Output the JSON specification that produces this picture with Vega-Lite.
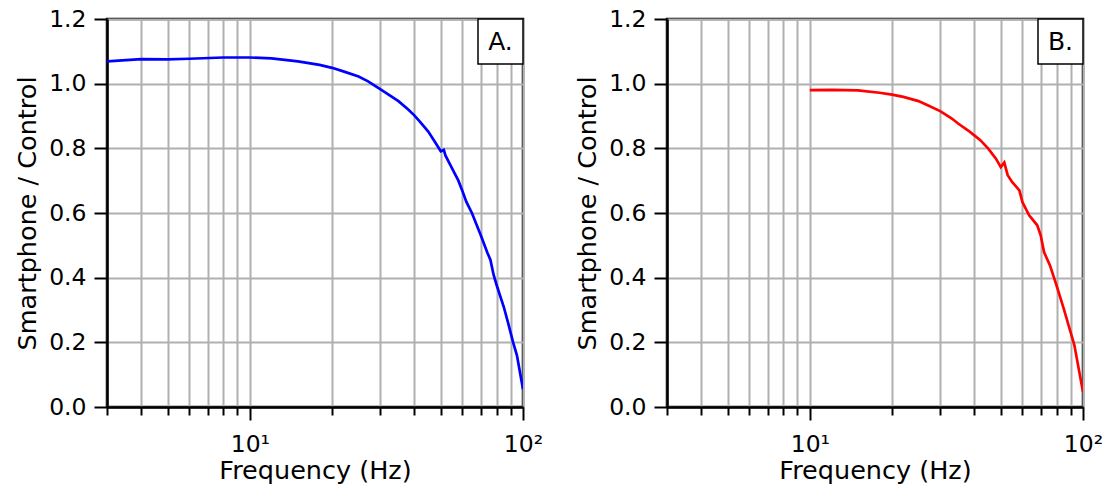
{
  "$schema": "https://vega.github.io/schema/vega-lite/v6.json",
  "padding": {"left": 14, "top": 5, "right": 5, "bottom": 0},
  "background": "white",
  "spacing": 144,
  "bounds": "flush",
  "datasets": {
    "a": [
      {"f": 3, "r": 1.069}, {"f": 4, "r": 1.076}, {"f": 5, "r": 1.075}, {"f": 6, "r": 1.077},
      {"f": 8, "r": 1.081}, {"f": 10, "r": 1.081}, {"f": 12, "r": 1.078}, {"f": 15, "r": 1.069},
      {"f": 18, "r": 1.058}, {"f": 20, "r": 1.049}, {"f": 22, "r": 1.038}, {"f": 25, "r": 1.022},
      {"f": 27, "r": 1.008}, {"f": 30, "r": 0.983}, {"f": 32, "r": 0.968}, {"f": 35, "r": 0.946},
      {"f": 38, "r": 0.920}, {"f": 40, "r": 0.902}, {"f": 42, "r": 0.882}, {"f": 45, "r": 0.852},
      {"f": 48, "r": 0.815}, {"f": 50, "r": 0.791}, {"f": 51.3, "r": 0.795}, {"f": 52, "r": 0.778},
      {"f": 55, "r": 0.738}, {"f": 58, "r": 0.700}, {"f": 60, "r": 0.668}, {"f": 62, "r": 0.635},
      {"f": 65, "r": 0.600}, {"f": 70, "r": 0.532}, {"f": 74, "r": 0.478}, {"f": 76, "r": 0.455},
      {"f": 78, "r": 0.410}, {"f": 80, "r": 0.378}, {"f": 85, "r": 0.310}, {"f": 88, "r": 0.263},
      {"f": 92, "r": 0.200}, {"f": 95, "r": 0.160}, {"f": 100, "r": 0.055}
    ],
    "b": [
      {"f": 10, "r": 0.980}, {"f": 12, "r": 0.981}, {"f": 15, "r": 0.979}, {"f": 18, "r": 0.972},
      {"f": 20, "r": 0.966}, {"f": 22, "r": 0.959}, {"f": 25, "r": 0.946}, {"f": 27, "r": 0.933},
      {"f": 30, "r": 0.915}, {"f": 33, "r": 0.893}, {"f": 35, "r": 0.876}, {"f": 38, "r": 0.855},
      {"f": 40, "r": 0.840}, {"f": 42, "r": 0.826}, {"f": 45, "r": 0.799}, {"f": 48, "r": 0.768},
      {"f": 50, "r": 0.742}, {"f": 51.5, "r": 0.756}, {"f": 53, "r": 0.717}, {"f": 55, "r": 0.696},
      {"f": 58.5, "r": 0.670}, {"f": 60, "r": 0.634}, {"f": 63.5, "r": 0.593}, {"f": 68, "r": 0.562},
      {"f": 70, "r": 0.531}, {"f": 72, "r": 0.479}, {"f": 75.7, "r": 0.438}, {"f": 80, "r": 0.376},
      {"f": 85, "r": 0.304}, {"f": 93, "r": 0.191}, {"f": 100, "r": 0.046}
    ],
    "la": [{"f": 100, "r": 1.2, "label": "A."}],
    "lb": [{"f": 100, "r": 1.2, "label": "B."}]
  },
  "config": {
    "font": "DejaVu Sans",
    "view": {"stroke": "black", "strokeWidth": 2.5},
    "axis": {
      "labelFont": "DejaVu Sans", "titleFont": "DejaVu Sans",
      "labelFontSize": 23.5, "titleFontSize": 25.5, "titleFontWeight": "normal",
      "labelColor": "black", "titleColor": "black",
      "domainColor": "black", "domainWidth": 2.5,
      "tickColor": "black", "tickWidth": 2,
      "gridColor": "#b0b0b0", "gridWidth": 2, "gridOpacity": 1,
      "labelFlush": false, "labelOverlap": false
    }
  },
  "hconcat": [
    {
      "width": 416, "height": 388,
      "layer": [
        {
          "data": {"name": "a"},
          "mark": {"type": "line", "color": "#0000ff", "strokeWidth": 2.7, "clip": true},
          "encoding": {
            "x": {"field": "f", "type": "quantitative",
              "scale": {"type": "log", "domain": [3, 100], "nice": false},
              "axis": {"title": "Frequency (Hz)", "values": [3,4,5,6,7,8,9,10,20,30,40,50,60,70,80,90,100],
                "labelExpr": "datum.value == 10 ? '10¹' : datum.value == 100 ? '10²' : ''",
                "tickSize": {"condition": {"test": "datum.value == 10 || datum.value == 100", "value": 13}, "value": 8},
                "labelPadding": 12, "titlePadding": 3}},
            "y": {"field": "r", "type": "quantitative",
              "scale": {"domain": [0, 1.2], "nice": false},
              "axis": {"title": "Smartphone / Control", "values": [0, 0.2, 0.4, 0.6, 0.8, 1.0, 1.2],
                "format": ".1f", "tickSize": 13, "labelPadding": 8, "titlePadding": 8}}
          }
        },
        {
          "data": {"name": "la"},
          "mark": {"type": "point", "shape": "square", "filled": true, "fill": "white", "stroke": "black",
            "strokeWidth": 1.5, "opacity": 1, "size": 2025, "xOffset": -22.5, "yOffset": 22.5},
          "encoding": {"x": {"field": "f", "type": "quantitative"}, "y": {"field": "r", "type": "quantitative"}}
        },
        {
          "data": {"name": "la"},
          "mark": {"type": "text", "fontSize": 25, "font": "DejaVu Sans", "color": "black",
            "align": "center", "baseline": "middle", "dx": -22.5, "dy": 22.5},
          "encoding": {"x": {"field": "f", "type": "quantitative"}, "y": {"field": "r", "type": "quantitative"},
            "text": {"field": "label"}}
        }
      ]
    },
    {
      "width": 416, "height": 388,
      "layer": [
        {
          "data": {"name": "b"},
          "mark": {"type": "line", "color": "#ff0000", "strokeWidth": 2.7, "clip": true},
          "encoding": {
            "x": {"field": "f", "type": "quantitative",
              "scale": {"type": "log", "domain": [3, 100], "nice": false},
              "axis": {"title": "Frequency (Hz)", "values": [3,4,5,6,7,8,9,10,20,30,40,50,60,70,80,90,100],
                "labelExpr": "datum.value == 10 ? '10¹' : datum.value == 100 ? '10²' : ''",
                "tickSize": {"condition": {"test": "datum.value == 10 || datum.value == 100", "value": 13}, "value": 8},
                "labelPadding": 12, "titlePadding": 3}},
            "y": {"field": "r", "type": "quantitative",
              "scale": {"domain": [0, 1.2], "nice": false},
              "axis": {"title": "Smartphone / Control", "values": [0, 0.2, 0.4, 0.6, 0.8, 1.0, 1.2],
                "format": ".1f", "tickSize": 13, "labelPadding": 8, "titlePadding": 8}}
          }
        },
        {
          "data": {"name": "lb"},
          "mark": {"type": "point", "shape": "square", "filled": true, "fill": "white", "stroke": "black",
            "strokeWidth": 1.5, "opacity": 1, "size": 2025, "xOffset": -22.5, "yOffset": 22.5},
          "encoding": {"x": {"field": "f", "type": "quantitative"}, "y": {"field": "r", "type": "quantitative"}}
        },
        {
          "data": {"name": "lb"},
          "mark": {"type": "text", "fontSize": 25, "font": "DejaVu Sans", "color": "black",
            "align": "center", "baseline": "middle", "dx": -22.5, "dy": 22.5},
          "encoding": {"x": {"field": "f", "type": "quantitative"}, "y": {"field": "r", "type": "quantitative"},
            "text": {"field": "label"}}
        }
      ]
    }
  ]
}
